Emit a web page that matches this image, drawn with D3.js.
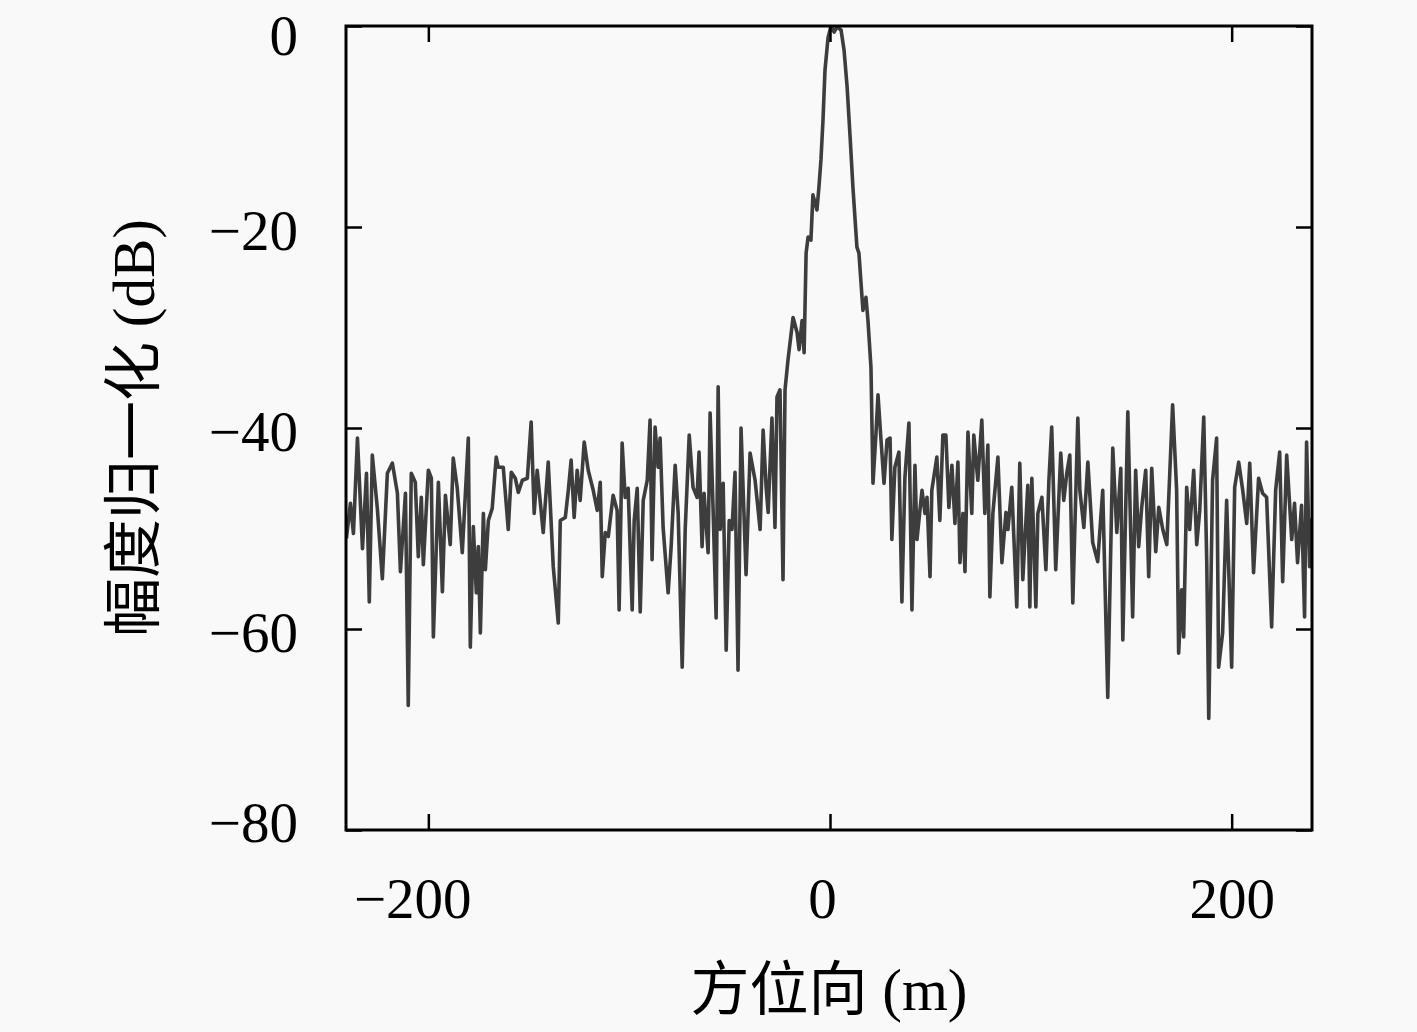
<!DOCTYPE html>
<html>
<head>
<meta charset="utf-8">
<script src="https://cdn.jsdelivr.net/npm/d3@7"></script>
<style>
  html, body { margin: 0; padding: 0; background: #f9f9f9; }
  svg { display: block; }
</style>
</head>
<body>
<div id="chart"></div>
<script>
const width = 1417;
const height = 1032;
const margin = { top: 26, right: 105, bottom: 202, left: 346 };

// azimuth position (m)
const azimuth = [
  -240.8, -238.8, -237.3, -235.3, -232.8, -230.8, -229.4, -227.9, -225.4, -222.9,
  -220.4, -217.9, -215.4, -213.9, -211.4, -210.0, -208.5, -206.5, -205.0, -203.5,
  -202.5, -200.0, -198.5, -197.5, -195.0, -193.0, -191.5, -189.1, -187.6, -185.6,
  -183.1, -180.1, -179.1, -177.6, -176.1, -175.1, -174.1, -172.6, -171.6, -170.1,
  -168.2, -166.2, -165.2, -162.7, -160.2, -158.7, -156.7, -155.2, -153.2, -150.7,
  -148.8, -147.3, -145.8, -142.8, -140.3, -137.8, -135.3, -134.3, -131.8, -130.3,
  -128.9, -127.4, -125.9, -124.4, -122.4, -120.4, -117.9, -115.9, -114.4, -113.4,
  -111.9, -110.4, -108.0, -106.0, -105.0, -103.5, -102.0, -100.5, -98.5, -97.5,
  -96.0, -94.5, -93.0, -91.0, -89.6, -88.6, -87.1, -85.6, -84.6, -83.1,
  -80.6, -79.1, -77.1, -75.6, -73.6, -72.1, -70.1, -68.2, -66.2, -65.2,
  -63.7, -62.7, -60.7, -59.7, -58.2, -56.7, -55.7, -54.7, -53.2, -51.7,
  -50.2, -48.8, -47.3, -45.8, -44.3, -41.8, -39.8, -37.3, -34.8, -33.3,
  -31.8, -30.8, -28.9, -27.4, -26.4, -24.9, -23.4, -22.4, -20.9, -18.4,
  -16.4, -15.4, -13.9, -12.9, -11.9, -10.9, -9.5, -8.5, -6.5, -5.5,
  -4.5, -3.5, -2.5, -1.0, 0.5, 2.0, 3.5, 5.5, 7.0, 8.5,
  10.0, 11.4, 13.4, 14.4, 16.4, 17.9, 18.9, 20.4, 21.4, 22.9,
  23.9, 25.4, 26.9, 28.4, 29.9, 30.8, 32.3, 34.3, 35.8, 37.3,
  39.3, 40.8, 42.3, 43.3, 45.8, 47.3, 48.3, 49.8, 50.7, 53.2,
  54.7, 56.2, 57.7, 59.2, 60.7, 62.2, 63.7, 64.7, 66.2, 67.2,
  68.7, 70.6, 71.6, 73.6, 75.6, 77.1, 78.6, 79.6, 81.1, 83.6,
  85.6, 87.6, 88.6, 90.5, 93.0, 94.5, 96.0, 98.5, 99.5, 100.5,
  102.5, 103.5, 105.5, 107.5, 109.0, 110.4, 112.4, 114.9, 116.4, 117.9,
  119.4, 120.9, 123.4, 124.4, 126.4, 128.4, 130.8, 133.3, 135.8, 138.3,
  140.8, 142.8, 144.8, 145.8, 148.3, 150.7, 152.2, 153.7, 155.2, 157.2,
  158.7, 160.2, 162.2, 163.7, 165.7, 167.7, 170.6, 172.6, 173.6, 175.1,
  176.1, 177.6, 179.1, 181.1, 182.6, 184.1, 186.1, 187.6, 188.6, 190.5,
  192.5, 193.5, 195.5, 197.5, 200.0, 201.5, 203.5, 205.5, 207.5, 209.0,
  210.9, 213.4, 215.4, 217.4, 219.9, 221.9, 223.9, 225.4, 227.4, 229.9,
  231.3, 232.8, 234.8, 236.3, 237.3, 238.8, 239.8
];

// normalised amplitude (dB)
const amplitude = [
  -51.0, -47.5, -50.5, -41.0, -52.0, -44.5, -57.3, -42.7, -48.0, -55.0,
  -44.5, -43.5, -46.5, -54.3, -46.5, -67.6, -44.5, -45.4, -52.8, -46.9,
  -53.6, -44.2, -45.0, -60.8, -45.4, -56.3, -46.7, -51.6, -43.0, -46.0,
  -52.4, -41.0, -61.8, -49.8, -56.4, -51.8, -60.4, -48.5, -54.1, -49.2,
  -48.0, -42.9, -43.9, -43.9, -50.1, -44.4, -45.0, -46.4, -45.2, -45.0,
  -39.4, -48.5, -44.2, -50.4, -43.4, -53.8, -59.4, -49.2, -48.9, -46.2,
  -43.2, -48.9, -44.2, -47.2, -41.4, -44.2, -46.2, -48.2, -45.4, -54.8,
  -50.4, -50.8, -46.7, -48.2, -58.1, -41.5, -46.9, -46.0, -58.1, -49.2,
  -46.0, -58.3, -47.2, -45.2, -39.2, -53.1, -39.9, -43.9, -41.0, -49.9,
  -56.4, -51.8, -43.7, -48.5, -63.8, -50.1, -40.7, -45.9, -46.9, -42.4,
  -51.8, -46.5, -52.4, -38.5, -48.2, -58.9, -35.9, -50.1, -45.5, -62.1,
  -49.2, -50.1, -44.4, -64.1, -40.0, -54.6, -42.5, -45.2, -50.1, -40.2,
  -45.9, -48.4, -39.0, -49.9, -36.9, -36.2, -55.1, -36.2, -33.2, -29.0,
  -30.5, -32.2, -29.3, -32.5, -22.6, -21.0, -21.3, -16.8, -18.3, -16.0,
  -13.3, -9.4, -4.4, -1.2, 0.0, -0.6, -0.1, -0.4, -2.4, -6.0,
  -11.0, -16.0, -22.0, -22.6, -28.3, -27.0, -29.3, -34.0, -45.5, -40.5,
  -36.7, -41.2, -45.5, -41.2, -41.0, -51.1, -43.9, -42.4, -57.3, -44.9,
  -39.5, -58.1, -43.7, -51.1, -46.2, -48.5, -46.9, -54.8, -46.2, -42.9,
  -49.2, -40.7, -40.7, -47.9, -43.7, -49.5, -43.4, -53.4, -48.5, -54.3,
  -40.4, -48.5, -40.7, -45.2, -39.2, -48.5, -41.7, -56.8, -48.5, -42.9,
  -53.4, -48.4, -50.1, -45.9, -57.8, -43.5, -55.1, -45.7, -57.8, -45.0,
  -57.8, -48.5, -46.9, -54.1, -45.2, -39.9, -54.1, -42.5, -47.2, -44.5,
  -42.7, -57.4, -39.0, -46.2, -49.9, -43.4, -51.4, -53.3, -46.2, -66.8,
  -42.0, -50.4, -44.0, -61.1, -38.4, -58.8, -44.2, -51.8, -47.9, -44.2,
  -54.8, -44.0, -52.3, -47.9, -50.1, -51.6, -37.7, -46.2, -62.4, -56.1,
  -60.8, -45.9, -50.1, -44.2, -51.6, -48.2, -38.9, -53.4, -68.9, -45.2,
  -41.0, -63.8, -60.4, -47.2, -63.8, -45.9, -43.4, -46.2, -49.5, -43.5,
  -54.4, -45.0, -46.5, -46.9, -59.8, -46.2, -42.4, -55.3, -42.7, -51.1,
  -47.5, -53.4, -47.7, -58.8, -41.4, -53.8, -49.0
];

const xTicks = [-200, 0, 200];
const yTicks = [0, -20, -40, -60, -80];
const xLabel = "方位向 (m)";
const yLabel = "幅度归一化 (dB)";

const fontFamily = '"Liberation Serif", "Noto Sans CJK SC", serif';
const tickLen = 16;

var svg = d3
  .select("#chart")
  .append("svg")
  .attr("width", width)
  .attr("height", height)
  .style("background", "#f9f9f9");

const innerW = width - margin.left - margin.right;
const innerH = height - margin.top - margin.bottom;

let xScale = d3.scaleLinear().domain([-241, 240]).range([0, innerW]);
let yScale = d3.scaleLinear().domain([-80, 0]).range([innerH, 0]);

const fmt = (d) => (d < 0 ? "\u2212" + Math.abs(d) : String(d));

let g = svg
  .append("g")
  .attr("transform", "translate(" + margin.left + "," + margin.top + ")");

// data line
let data = azimuth.map((x, i) => ({ x: x, y: amplitude[i] }));

g.append("defs")
  .append("clipPath")
  .attr("id", "plot-clip")
  .append("rect")
  .attr("width", innerW)
  .attr("height", innerH);

g.append("path")
  .datum(data)
  .attr("clip-path", "url(#plot-clip)")
  .attr("fill", "none")
  .attr("stroke", "#3d3d3d")
  .attr("stroke-width", 3.6)
  .attr("stroke-linejoin", "round")
  .attr("d", d3.line().x((d) => xScale(d.x)).y((d) => yScale(d.y)));

// axes, ticks pointing inward on all four sides
let bottomAxis = d3.axisBottom(xScale).tickValues(xTicks).tickSize(-tickLen).tickPadding(48).tickFormat(fmt);
let leftAxis = d3.axisLeft(yScale).tickValues(yTicks).tickSize(-tickLen).tickPadding(48).tickFormat(fmt);
let topAxis = d3.axisTop(xScale).tickValues(xTicks).tickSize(-tickLen).tickFormat("");
let rightAxis = d3.axisRight(yScale).tickValues(yTicks).tickSize(-tickLen).tickFormat("");

let gx = g.append("g").attr("transform", "translate(0," + innerH + ")").call(bottomAxis);
let gy = g.append("g").call(leftAxis);
g.append("g").call(topAxis);
g.append("g").attr("transform", "translate(" + innerW + ",0)").call(rightAxis);

g.selectAll(".domain").remove();
g.selectAll(".tick line").attr("stroke", "#000").attr("stroke-width", 2.5);

gx.selectAll(".tick text")
  .attr("font-family", fontFamily)
  .attr("font-size", 57)
  .attr("fill", "#000");

// end labels sit a little inside the frame, as in the original figure
gy.selectAll(".tick text")
  .attr("font-family", fontFamily)
  .attr("font-size", 57)
  .attr("fill", "#000")
  .attr("dy", (d) => (d === 0 ? "0.5em" : d === -80 ? "0.2em" : "0.4em"));

// keep the digits centred under the tick, the minus sign hangs left
gx.selectAll(".tick text").each(function (d) {
  if (d < 0) {
    const minusW = this.getSubStringLength(0, 1);
    d3.select(this).attr("x", -minusW / 2);
  } else if (d === 0) {
    d3.select(this).attr("x", -8);
  }
});

// frame
g.append("rect")
  .attr("width", innerW)
  .attr("height", innerH)
  .attr("fill", "none")
  .attr("stroke", "#000")
  .attr("stroke-width", 3);

// axis titles
svg
  .append("text")
  .attr("x", margin.left + innerW / 2)
  .attr("y", 1010)
  .attr("text-anchor", "middle")
  .attr("font-family", fontFamily)
  .attr("font-size", 59)
  .attr("fill", "#000")
  .text(xLabel);

svg
  .append("text")
  .attr("transform", "translate(134," + (margin.top + innerH / 2) + ") rotate(-90)")
  .attr("text-anchor", "middle")
  .attr("dominant-baseline", "central")
  .attr("font-family", fontFamily)
  .attr("font-size", 59)
  .attr("fill", "#000")
  .text(yLabel);
</script>
</body>
</html>
